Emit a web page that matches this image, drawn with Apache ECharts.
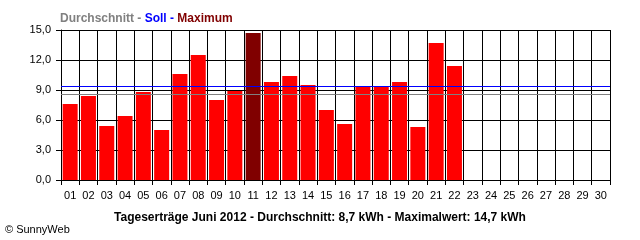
<!DOCTYPE html>
<html>
<head>
<meta charset="utf-8">
<script src="https://cdn.jsdelivr.net/npm/echarts@6/dist/echarts.min.js"></script>
<style>html,body{margin:0;padding:0;background:#fff;}#c{width:640px;height:240px;}</style>
</head>
<body>
<div id="c"></div>
<script>
var days = ['01','02','03','04','05','06','07','08','09','10','11','12','13','14','15','16','17','18','19','20','21','22','23','24','25','26','27','28','29','30'];
var yields = [7.6,8.4,5.4,6.4,8.8,5.0,10.6,12.5,8.0,8.9,14.7,9.8,10.4,9.5,7.0,5.6,9.4,9.4,9.8,5.3,13.7,11.4,null,null,null,null,null,null,null,null];
var maxIndex = 10;
var averageLine = 8.6;
var targetLine = 9.4;
var yTicks = [0,3,6,9,12,15];
var legendTexts = ['Durchschnitt - ', 'Soll - ', 'Maximum'];
var footerText = 'Tageserträge Juni 2012 - Durchschnitt: 8,7 kWh - Maximalwert: 14,7 kWh';
var creditText = '© SunnyWeb';

var font = '"Liberation Sans", Arial, sans-serif';
var chart = echarts.init(document.getElementById('c'), null, {renderer: 'canvas'});
var barData = yields.map(function (v, i) {
  return {value: v, itemStyle: {color: i === maxIndex ? '#800000' : '#FF0000'}};
});
chart.setOption({
  animation: false,
  backgroundColor: '#ffffff',
  title: [{
    left: 55, top: 8,
    text: '{g|' + legendTexts[0] + '}{b|' + legendTexts[1] + '}{r|' + legendTexts[2] + '}',
    textStyle: {
      fontFamily: font, fontSize: 12, fontWeight: 'bold',
      rich: {
        g: {color: '#808080', fontFamily: font, fontSize: 12, fontWeight: 'bold'},
        b: {color: '#0000FF', fontFamily: font, fontSize: 12, fontWeight: 'bold'},
        r: {color: '#800000', fontFamily: font, fontSize: 12, fontWeight: 'bold'}
      }
    }
  }, {
    left: 'center', top: 207,
    text: footerText,
    textStyle: {fontFamily: font, fontSize: 12, fontWeight: 'bold', color: '#000'}
  }, {
    left: 0, top: 219,
    text: creditText,
    textStyle: {fontFamily: font, fontSize: 11, fontWeight: 'normal', color: '#000'}
  }],
  grid: {left: 61, right: 30, top: 30, bottom: 60, containLabel: false},
  xAxis: {
    type: 'category',
    data: days,
    boundaryGap: true,
    axisLine: {lineStyle: {color: '#000', width: 1}},
    axisTick: {show: true, interval: 0, length: 5, lineStyle: {color: '#000'}},
    axisLabel: {interval: 0, margin: 10, color: '#000', fontFamily: font, fontSize: 11},
    splitLine: {show: true, interval: 0, lineStyle: {color: '#000', width: 1}}
  },
  yAxis: {
    type: 'value',
    min: yTicks[0], max: yTicks[yTicks.length - 1], interval: 3,
    axisLine: {show: true, lineStyle: {color: '#000', width: 1}},
    axisTick: {show: true, length: 5, lineStyle: {color: '#000'}},
    axisLabel: {margin: 10, color: '#000', fontFamily: font, fontSize: 11,
      formatter: function (v) { return v.toFixed(1).replace('.', ','); }},
    splitLine: {show: true, lineStyle: {color: '#000', width: 1}}
  },
  series: [{
    type: 'bar',
    data: barData,
    barCategoryGap: '18%',
    markLine: {
      silent: true, symbol: 'none', z: 6,
      label: {show: false},
      data: [
        {yAxis: averageLine, lineStyle: {color: '#808080', width: 1, type: 'solid'}},
        {yAxis: targetLine, lineStyle: {color: '#0000FF', width: 1, type: 'solid'}}
      ]
    }
  }]
});
</script>
</body>
</html>
